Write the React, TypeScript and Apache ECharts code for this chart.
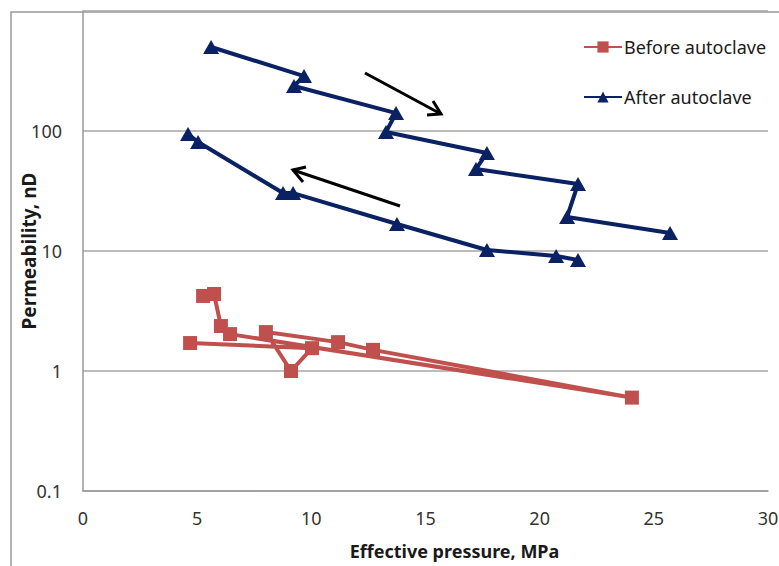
import React, { useEffect, useRef } from "react";
import * as echarts from "echarts";

// Before autoclave: effective pressure (MPa) and permeability (nD)
const beforePressure = [4.69, 10.03, 9.11, 8.01, 11.17, 12.7, 24.04, 6.44, 6.04, 5.74, 5.26];
const beforePerm = [1.71, 1.55, 1.0, 2.11, 1.74, 1.5, 0.6, 2.03, 2.37, 4.38, 4.22];

// After autoclave: loading branch, then (gap) unloading branch
const afterPressure = [5.61, 9.68, 9.24, 13.71, 13.27, 17.69, 17.21, 21.68, 21.2, 25.71, null,
  21.68, 20.72, 17.69, 13.75, 9.2, 8.76, 5.04, 4.6];
const afterPerm = [501, 287, 237, 141, 98, 65.6, 48.2, 36.2, 19.2, 14.1, null,
  8.41, 9.09, 10.2, 16.8, 30.4, 30.4, 81, 94.4];

const xTicks = [0, 5, 10, 15, 20, 25, 30];
const yTicks = [0.1, 1, 10, 100];

const seriesNames = ["Before autoclave", "After autoclave"];

function pairs(xs: (number | null)[], ys: (number | null)[]) {
  return xs.map((x, i) => (x === null || ys[i] === null ? [null, null] : [x, ys[i]]));
}

export default function App() {
  const ref = useRef<HTMLDivElement>(null);
  useEffect(() => {
    if (!ref.current) return;
    const chart = echarts.init(ref.current, null, { renderer: "svg" });
    const font = "'Noto Sans', 'Open Sans', sans-serif";
    const red = "#C0504D";
    const blue = "#0A2163";
    chart.setOption({
      animation: false,
      backgroundColor: "#ffffff",
      textStyle: { fontFamily: font },
      grid: { left: 83, right: 11, top: 11, bottom: 75, containLabel: false, outerBoundsMode: "none" },
      legend: {
        orient: "vertical",
        left: 583,
        top: 37,
        padding: 0,
        itemGap: 30,
        itemWidth: 38,
        itemHeight: 14,
        data: seriesNames,
        textStyle: { fontFamily: font, fontSize: 18, color: "#1a1a1a", padding: [0, 0, 0, -3], lineHeight: 20 },
      },
      xAxis: {
        type: "value",
        min: xTicks[0],
        max: xTicks[xTicks.length - 1],
        interval: 5,
        name: "Effective pressure, MPa",
        nameLocation: "middle",
        nameGap: 51,
        nameMoveOverlap: false,
        nameTextStyle: { fontFamily: font, fontSize: 18, fontWeight: "bold", color: "#1a1a1a", padding: [0, 0, 0, 58] },
        axisLine: { show: true, lineStyle: { color: "#999", width: 1.5 } },
        axisTick: { show: false },
        splitLine: { show: false },
        axisLabel: { fontFamily: font, fontSize: 18, color: "#333", margin: 18 },
      },
      yAxis: {
        type: "log",
        logBase: 10,
        min: 0.1,
        max: 1000,
        name: "Permeability, nD",
        nameLocation: "middle",
        nameGap: 45,
        nameMoveOverlap: false,
        nameRotate: 90,
        nameTextStyle: { fontFamily: font, fontSize: 19, fontWeight: "bold", color: "#1a1a1a" },
        axisLine: { show: true, lineStyle: { color: "#999", width: 1.5 } },
        axisTick: { show: false },
        splitLine: { show: true, lineStyle: { color: "#a6a6a6", width: 1.5 } },
        axisLabel: {
          fontFamily: font,
          fontSize: 18,
          color: "#333",
          margin: 21,
          formatter: (v: number) => {
            const t = yTicks.find((k) => Math.abs(k - v) / k < 1e-6);
            return t === undefined ? "" : String(t);
          },
        },
      },
      graphic: [
        {
          type: "rect",
          shape: { x: 11, y: 12, width: 900, height: 700 },
          style: { fill: "none", stroke: "#999", lineWidth: 1.5 },
          silent: true,
          z: -1,
        },
        // loading arrow
        { type: "line", shape: { x1: 365, y1: 73, x2: 441, y2: 114 }, style: { stroke: "#000", lineWidth: 3 } },
        { type: "polyline", shape: { points: [[427, 115], [441, 114], [433, 101]] }, style: { stroke: "#000", fill: "none", lineWidth: 3 } },
        // unloading arrow
        { type: "line", shape: { x1: 400, y1: 206, x2: 293, y2: 170 }, style: { stroke: "#000", lineWidth: 3 } },
        { type: "polyline", shape: { points: [[303, 182], [293, 170], [306, 167]] }, style: { stroke: "#000", fill: "none", lineWidth: 3 } },
      ],
      series: [
        {
          name: seriesNames[0],
          type: "line",
          data: pairs(beforePressure, beforePerm),
          symbol: "rect",
          symbolSize: 14,
          lineStyle: { color: red, width: 4 },
          itemStyle: { color: red },
          z: 3,
        },
        {
          name: seriesNames[1],
          type: "line",
          data: pairs(afterPressure, afterPerm),
          connectNulls: false,
          symbol: "triangle",
          symbolSize: [16, 14],
          lineStyle: { color: blue, width: 4 },
          itemStyle: { color: blue },
          z: 3,
        },
      ],
    });
    return () => chart.dispose();
  }, []);
  return <div ref={ref} style={{ position: "absolute", left: 0, top: 0, width: 779, height: 566 }} />;
}
